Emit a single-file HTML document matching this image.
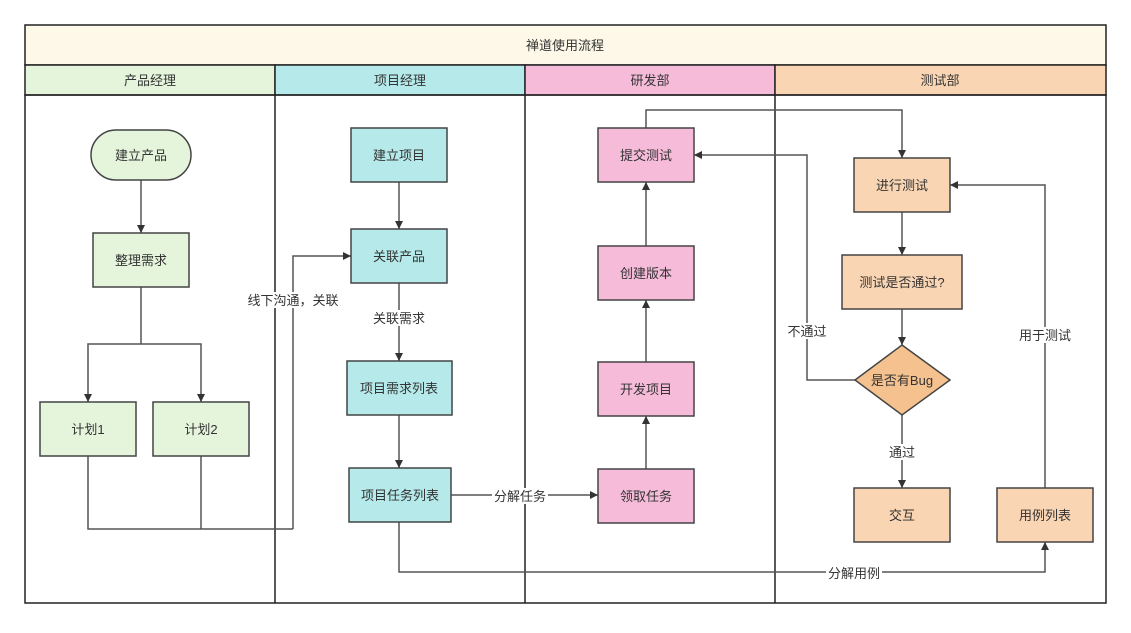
<!DOCTYPE html>
<html><head><meta charset="utf-8"><style>
html,body{margin:0;padding:0;background:#fff;}
svg text{font-family:"Liberation Sans","Noto Sans CJK SC",sans-serif;font-size:13px;fill:#333;}
</style></head><body>
<svg width="1131" height="628" viewBox="0 0 1131 628" xmlns="http://www.w3.org/2000/svg">
<defs>
<marker id="a" viewBox="0 0 10 10" refX="10" refY="5" markerWidth="8" markerHeight="8" orient="auto" markerUnits="userSpaceOnUse"><path d="M0,0 L10,5 L0,10 Z" fill="#333"/></marker>
</defs>
<!-- frame -->
<rect x="25" y="25" width="1081" height="40" fill="#fdf8e8" stroke="#222" stroke-width="1.5"/>
<text x="565" y="50" text-anchor="middle" font-size="14">禅道使用流程</text>
<rect x="25" y="65" width="250" height="30" fill="#e5f5dc" stroke="#222" stroke-width="1.5"/>
<rect x="275" y="65" width="250" height="30" fill="#b5e9ea" stroke="#222" stroke-width="1.5"/>
<rect x="525" y="65" width="250" height="30" fill="#f5bbd9" stroke="#222" stroke-width="1.5"/>
<rect x="775" y="65" width="331" height="30" fill="#f9d5b3" stroke="#222" stroke-width="1.5"/>
<text x="150" y="85" text-anchor="middle">产品经理</text>
<text x="400" y="85" text-anchor="middle">项目经理</text>
<text x="650" y="85" text-anchor="middle">研发部</text>
<text x="940" y="85" text-anchor="middle">测试部</text>
<rect x="25" y="95" width="1081" height="508" fill="none" stroke="#222" stroke-width="1.5"/>
<line x1="275" y1="95" x2="275" y2="603" stroke="#222" stroke-width="1.5"/>
<line x1="525" y1="95" x2="525" y2="603" stroke="#222" stroke-width="1.5"/>
<line x1="775" y1="95" x2="775" y2="603" stroke="#222" stroke-width="1.5"/>

<!-- connectors -->
<g fill="none" stroke="#555" stroke-width="1.5">
<path d="M141,180 V233" marker-end="url(#a)"/>
<path d="M141,287 V344 H88 V402" marker-end="url(#a)"/>
<path d="M141,344 H201 V402" marker-end="url(#a)"/>
<path d="M88,456 V529 H293"/>
<path d="M201,456 V529"/>
<path d="M293,529 V256 H351" marker-end="url(#a)"/>
<path d="M399,182 V229" marker-end="url(#a)"/>
<path d="M399,283 V361" marker-end="url(#a)"/>
<path d="M399,415 V468" marker-end="url(#a)"/>
<path d="M451,495 H598" marker-end="url(#a)"/>
<path d="M646,469 V416" marker-end="url(#a)"/>
<path d="M646,362 V300" marker-end="url(#a)"/>
<path d="M646,246 V182" marker-end="url(#a)"/>
<path d="M646,128 V110 H902 V158" marker-end="url(#a)"/>
<path d="M902,212 V255" marker-end="url(#a)"/>
<path d="M902,309 V345" marker-end="url(#a)"/>
<path d="M855,380 H807 V155 H694" marker-end="url(#a)"/>
<path d="M902,415 V488" marker-end="url(#a)"/>
<path d="M1045,488 V185 H950" marker-end="url(#a)"/>
<path d="M399,522 V572 H1045 V542" marker-end="url(#a)"/>
</g>
<!-- connector labels -->
<g>
<rect x="247" y="292" width="92" height="16" fill="#fff"/>
<text x="293" y="305" text-anchor="middle">线下沟通，关联</text>
<rect x="372" y="310" width="54" height="16" fill="#fff"/>
<text x="399" y="323" text-anchor="middle">关联需求</text>
<rect x="492" y="488" width="56" height="16" fill="#fff"/>
<text x="520" y="501" text-anchor="middle">分解任务</text>
<rect x="782" y="323" width="50" height="16" fill="#fff"/>
<text x="807" y="336" text-anchor="middle">不通过</text>
<rect x="886" y="444" width="32" height="16" fill="#fff"/>
<text x="902" y="457" text-anchor="middle">通过</text>
<rect x="1017" y="327" width="56" height="16" fill="#fff"/>
<text x="1045" y="340" text-anchor="middle">用于测试</text>
<rect x="826" y="565" width="56" height="16" fill="#fff"/>
<text x="854" y="578" text-anchor="middle">分解用例</text>
</g>

<!-- nodes -->
<g stroke="#444" stroke-width="1.5">
<rect x="91" y="130" width="100" height="50" rx="25" fill="#e5f5dc"/>
<rect x="93" y="233" width="96" height="54" fill="#e5f5dc"/>
<rect x="40" y="402" width="96" height="54" fill="#e5f5dc"/>
<rect x="153" y="402" width="96" height="54" fill="#e5f5dc"/>
<rect x="351" y="128" width="96" height="54" fill="#b5e9ea"/>
<rect x="351" y="229" width="96" height="54" fill="#b5e9ea"/>
<rect x="347" y="361" width="105" height="54" fill="#b5e9ea"/>
<rect x="349" y="468" width="102" height="54" fill="#b5e9ea"/>
<rect x="598" y="128" width="96" height="54" fill="#f5bbd9"/>
<rect x="598" y="246" width="96" height="54" fill="#f5bbd9"/>
<rect x="598" y="362" width="96" height="54" fill="#f5bbd9"/>
<rect x="598" y="469" width="96" height="54" fill="#f5bbd9"/>
<rect x="854" y="158" width="96" height="54" fill="#f9d5b3"/>
<rect x="842" y="255" width="120" height="54" fill="#f9d5b3"/>
<path d="M902,345 L950,380 L902,415 L855,380 Z" fill="#f5c18f"/>
<rect x="854" y="488" width="96" height="54" fill="#f9d5b3"/>
<rect x="997" y="488" width="96" height="54" fill="#f9d5b3"/>
</g>
<g text-anchor="middle">
<text x="141" y="160">建立产品</text>
<text x="141" y="265">整理需求</text>
<text x="88" y="434">计划1</text>
<text x="201" y="434">计划2</text>
<text x="399" y="160">建立项目</text>
<text x="399" y="261">关联产品</text>
<text x="399" y="393">项目需求列表</text>
<text x="400" y="500">项目任务列表</text>
<text x="646" y="160">提交测试</text>
<text x="646" y="278">创建版本</text>
<text x="646" y="394">开发项目</text>
<text x="646" y="501">领取任务</text>
<text x="902" y="190">进行测试</text>
<text x="902" y="287">测试是否通过?</text>
<text x="902" y="385">是否有Bug</text>
<text x="902" y="520">交互</text>
<text x="1045" y="520">用例列表</text>
</g>
</svg>
</body></html>
